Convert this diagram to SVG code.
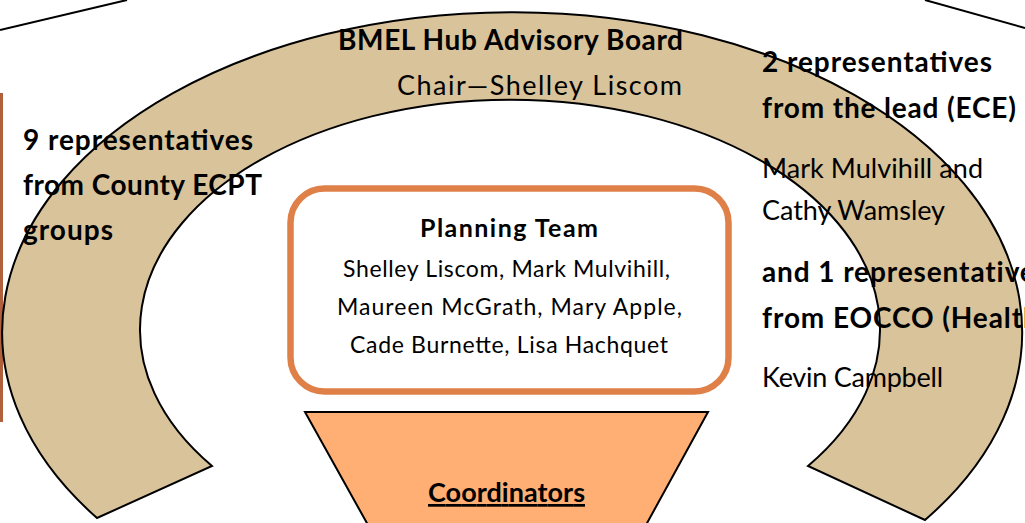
<svg xmlns="http://www.w3.org/2000/svg" width="1025" height="523" viewBox="0 0 1025 523">
<style>
.t{font-family:Lato,"Liberation Sans",sans-serif;fill:#000}
.b{font-weight:bold}
.big{font-size:28px}
.reg{font-size:27px}
.box{font-size:23px}
.edge{fill:none;stroke:#000;stroke-width:2}
</style>
<rect width="1025" height="523" fill="#fff"/>
<g id="frame">
<path class="edge" d="M0,30 L127,0"/>
<path class="edge" d="M925,0 L1025,28"/>
<line x1="1.5" y1="93" x2="1.5" y2="422" stroke="#b0603a" stroke-width="3"/>
</g>
<g id="advisory-board">
<path d="M97,518 A510,320 0 1 1 925,520 L808,466 A370,230 0 1 0 212,466 Z" fill="#d8c39a" stroke="#000" stroke-width="2"/>
<text class="t b big" x="338" y="50" textLength="345" lengthAdjust="spacing">BMEL Hub Advisory Board</text>
<text class="t reg" x="397" y="95" textLength="285" lengthAdjust="spacing">Chair—Shelley Liscom</text>
</g>
<g id="county-reps">
<text class="t b big" x="23" y="150" textLength="230" lengthAdjust="spacing">9 representatives</text>
<text class="t b big" x="23" y="195" textLength="239" lengthAdjust="spacing">from County ECPT</text>
<text class="t b big" x="23" y="240" textLength="90" lengthAdjust="spacing">groups</text>
</g>
<g id="lead-reps">
<text class="t b big" x="762" y="72" textLength="230" lengthAdjust="spacing">2 representatives</text>
<text class="t b big" x="762" y="118" textLength="254" lengthAdjust="spacing">from the lead (ECE)</text>
<text class="t reg" x="762" y="178" textLength="221" lengthAdjust="spacing">Mark Mulvihill and</text>
<text class="t reg" x="762" y="220" textLength="183" lengthAdjust="spacing">Cathy Wamsley</text>
</g>
<g id="eocco-rep">
<text class="t b big" x="762" y="282" letter-spacing="0.9">and 1 representative</text>
<text class="t b big" x="762" y="328" letter-spacing="0.9">from EOCCO (Health</text>
<text class="t reg" x="762" y="387" textLength="181" lengthAdjust="spacing">Kevin Campbell</text>
</g>
<g id="planning-team">
<rect x="290.5" y="188.5" width="438" height="203" rx="34" fill="#fff" stroke="#df8049" stroke-width="6.5"/>
<text class="t b" font-size="25" x="420" y="237" textLength="178" lengthAdjust="spacing">Planning Team</text>
<text class="t box" x="343" y="277" textLength="327" lengthAdjust="spacing">Shelley Liscom, Mark Mulvihill,</text>
<text class="t box" x="337" y="315" textLength="345" lengthAdjust="spacing">Maureen McGrath, Mary Apple,</text>
<text class="t box" x="350" y="353" textLength="318" lengthAdjust="spacing">Cade Burnette, Lisa Hachquet</text>
</g>
<g id="coordinators">
<path d="M305,412 L708,412 L646,525 L368,525 Z" fill="#ffaf74" stroke="#000" stroke-width="2"/>
<text class="t b" font-size="27" x="428" y="502" textLength="157" lengthAdjust="spacing" text-decoration="underline">Coordinators</text>
</g>
<g id="connectors"></g>
</svg>
